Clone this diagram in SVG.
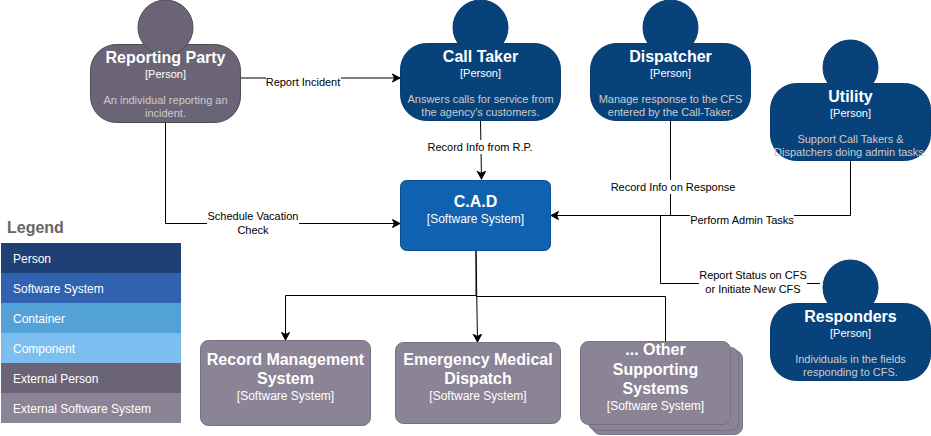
<svg xmlns="http://www.w3.org/2000/svg" width="931" height="436" viewBox="0 0 931 436">
<style>
text{font-family:"Liberation Sans",Arial,sans-serif;text-anchor:middle}
.p rect,.p circle{fill:#08427b;stroke:#073b6f}
.x rect,.x circle{fill:#6b6477;stroke:#4d4d4d}
.t{font-size:16px;font-weight:700;fill:#fff}
.k{font-size:11px;fill:#fff}
.d{font-size:11px;fill:#ccc}
.s rect{fill:#8b8496;stroke:#757085}
.k2{font-size:12px;fill:#fff}
.c{fill:none;stroke:#000;stroke-width:1}
.a{fill:none;stroke:#000;stroke-width:1;marker-end:url(#arr)}
.l{font-size:11px;fill:#000}
.b{fill:#fff}
.lg text{text-anchor:start;font-size:12px;fill:#fff}
</style>
<defs>
<marker id="arr" markerUnits="userSpaceOnUse" markerWidth="10" markerHeight="10" refX="8" refY="5" orient="auto">
<path d="M0.5 1 L8 5 L0.5 9 L2.5 5 Z" fill="#000" stroke="#000"/>
</marker>
</defs>

<g id="connectors">
<path class="a" d="M240 78H400"/>
<path class="a" d="M165.500 122V223.500H400"/>
<path class="a" d="M480.500 120L481.500 179"/>
<path class="a" d="M670.500 120V215.500H551"/>
<path class="c" d="M850.500 160V215.500H670"/>
<path class="c" d="M820 283.500H660.500V215.500"/>
<path class="a" d="M476 250V295.500H285.500V340"/>
<path class="a" d="M476 250L477.500 342"/>
<path class="c" d="M476 296.500H665.500V341"/>
<g id="labels">
<rect class="b" x="266" y="74" width="75" height="14"/><text class="l" x="303" y="86">Report Incident</text>
<rect class="b" x="207" y="210" width="92" height="28"/><text class="l" x="253" y="220">Schedule Vacation</text><text class="l" x="253" y="234">Check</text>
<rect class="b" x="427" y="140" width="106" height="14"/><text class="l" x="480" y="151">Record Info from R.P.</text>
<rect class="b" x="611" y="180" width="125" height="14"/><text class="l" x="673" y="191">Record Info on Response</text>
<rect class="b" x="690" y="213" width="104" height="14"/><text class="l" x="742" y="224">Perform Admin Tasks</text>
<rect class="b" x="699" y="268" width="108" height="28"/><text class="l" x="753" y="279">Report Status on CFS</text><text class="l" x="753" y="293">or Initiate New CFS</text>
</g>
</g>

<g id="reporting-party" class="x">
<rect x="90.500" y="44.500" width="150" height="78" rx="26"/><circle cx="165.500" cy="27.500" r="27.500"/>
<text class="t" x="165.500" y="63">Reporting Party</text><text class="k" x="165.500" y="78">[Person]</text>
<text class="d" x="165.500" y="104">An individual reporting an</text><text class="d" x="165.500" y="117">incident.</text>
</g>
<g id="call-taker" class="p">
<rect x="400.500" y="43.500" width="160" height="77" rx="26"/><circle cx="480.500" cy="27.500" r="27.500"/>
<text class="t" x="480.500" y="62">Call Taker</text><text class="k" x="480.500" y="77">[Person]</text>
<text class="d" x="480.500" y="103">Answers calls for service from</text><text class="d" x="480.500" y="116">the agency's customers.</text>
</g>
<g id="dispatcher" class="p">
<rect x="590.500" y="43.500" width="160" height="77" rx="26"/><circle cx="670.500" cy="27.500" r="27.500"/>
<text class="t" x="670.500" y="62">Dispatcher</text><text class="k" x="670.500" y="77">[Person]</text>
<text class="d" x="670.500" y="103">Manage response to the CFS</text><text class="d" x="670.500" y="116">entered by the Call-Taker.</text>
</g>
<g id="utility" class="p">
<rect x="770.500" y="83.500" width="160" height="77" rx="26"/><circle cx="850.500" cy="67.500" r="27.500"/>
<text class="t" x="850.500" y="102">Utility</text><text class="k" x="850.500" y="117">[Person]</text>
<text class="d" x="850.500" y="143">Support Call Takers &amp;</text><text class="d" x="850.500" y="156">Dispatchers doing admin tasks.</text>
</g>
<g id="responders" class="p">
<rect x="770.500" y="303.500" width="160" height="77" rx="26"/><circle cx="850.500" cy="287.500" r="27.500"/>
<text class="t" x="850.500" y="322">Responders</text><text class="k" x="850.500" y="337">[Person]</text>
<text class="d" x="850.500" y="363">Individuals in the fields</text><text class="d" x="850.500" y="376">responding to CFS.</text>
</g>

<g id="cad">
<rect x="400.500" y="180.500" width="150" height="70" rx="6" fill="#1061b0" stroke="#0d5091"/>
<text class="t" x="475.500" y="207">C.A.D</text><text class="k2" x="475.500" y="223">[Software System]</text>
</g>
<g id="record-management" class="s">
<rect x="200.500" y="340.500" width="170" height="85" rx="8"/>
<text class="t" x="285.500" y="365">Record Management</text><text class="t" x="285.500" y="384">System</text><text class="k2" x="285.500" y="400">[Software System]</text>
</g>
<g id="emergency-medical" class="s">
<rect x="395.500" y="342.500" width="165" height="81" rx="8"/>
<text class="t" x="478" y="365">Emergency Medical</text><text class="t" x="478" y="384">Dispatch</text><text class="k2" x="478" y="400">[Software System]</text>
</g>
<g id="other-systems" class="s">
<rect x="592.500" y="350.500" width="150" height="84" rx="8"/>
<rect x="588.500" y="347.500" width="150" height="83" rx="8"/>
<rect x="580.500" y="341.500" width="150" height="83" rx="8"/>
<text class="t" x="655.500" y="355">... Other</text><text class="t" x="655.500" y="375">Supporting</text><text class="t" x="655.500" y="394">Systems</text><text class="k2" x="655.500" y="410">[Software System]</text>
</g>

<g id="legend" class="lg">
<text x="7" y="233" style="font-size:16px;font-weight:700;fill:#666">Legend</text>
<rect x="1" y="243" width="180" height="30" fill="#1e4074"/><text x="13" y="263">Person</text>
<rect x="1" y="273" width="180" height="30" fill="#3162af"/><text x="13" y="293">Software System</text>
<rect x="1" y="303" width="180" height="30" fill="#52a2d8"/><text x="13" y="323">Container</text>
<rect x="1" y="333" width="180" height="30" fill="#7dbef1"/><text x="13" y="353">Component</text>
<rect x="1" y="363" width="180" height="30" fill="#6b6477"/><text x="13" y="383">External Person</text>
<rect x="1" y="393" width="180" height="30" fill="#8b8496"/><text x="13" y="413">External Software System</text>
</g>
</svg>
